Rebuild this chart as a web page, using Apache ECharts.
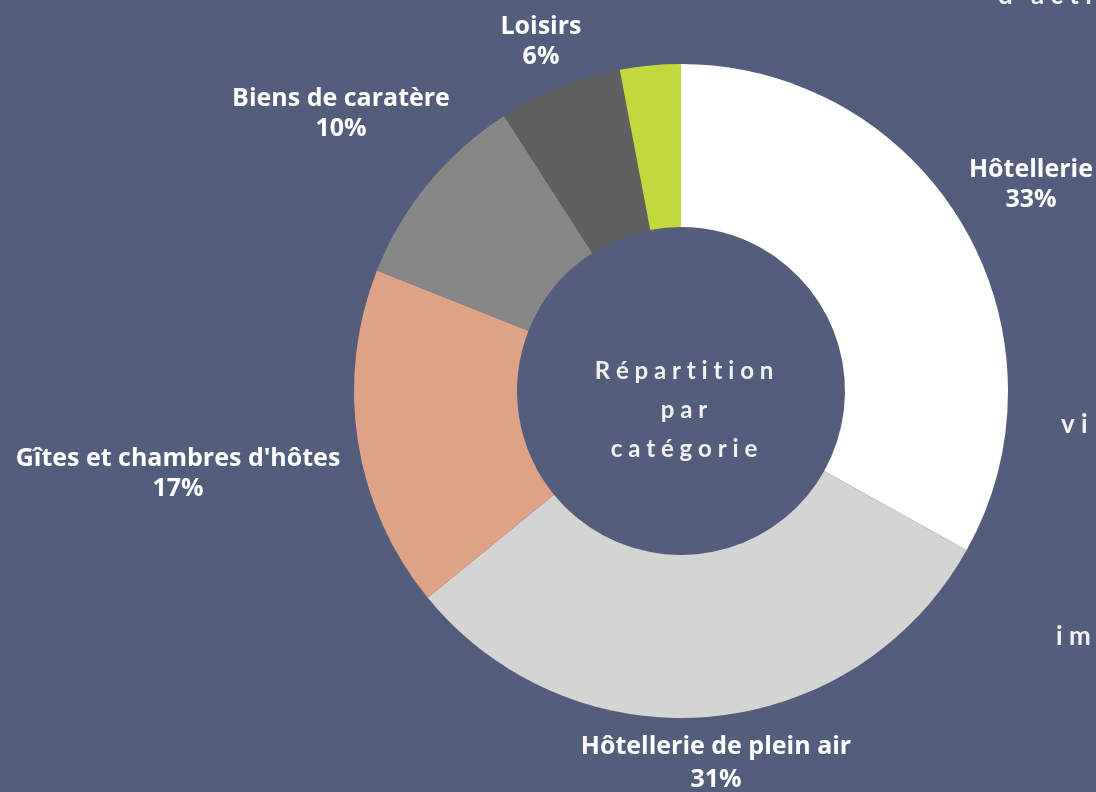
<!DOCTYPE html>
<html>
<head>
<meta charset="utf-8">
<title>Répartition par catégorie</title>
<script src="https://cdn.jsdelivr.net/npm/echarts@6/dist/echarts.min.js"></script>
<style>
  html, body { margin: 0; padding: 0; background: #535e7c; }
  #chart { width: 1096px; height: 792px; }
</style>
</head>
<body>
<div id="chart"></div>
<script>
// categories and shares (%)
var categories = ['Hôtellerie', 'Hôtellerie de plein air', "Gîtes et chambres d'hôtes", 'Biens de caratère', 'Loisirs', 'Autres'];
var shares = [33.1, 31.0, 16.9, 9.9, 6.1, 3.0];
var showLabel = [true, true, true, true, true, false];

var colors = ['#ffffff', '#d4d4d4', '#dea386', '#878787', '#606060', '#c3d83d'];
// label anchor positions (centre of the text block)
var labelPos = [[1031, 185], [716, 763], [178, 474], [341, 114], [541, 42], [0, 0]];

var myChart = echarts.init(document.getElementById('chart'));

var option = {
    backgroundColor: '#535e7c',
    animation: false,
    color: colors,
    graphic: [
        {
            type: 'text',
            style: {
                x: 684, y: 410, text: 'R é p a r t i t i o n\np a r\nc a t é g o r i e',
                align: 'center', verticalAlign: 'middle',
                font: 'bold 24px Lato', lineHeight: 39, fill: '#f2f2f2'
            }
        },
        { type: 'text', style: { x: 998, y: 9, text: "d ' a c t i", verticalAlign: 'bottom', font: 'bold 26px Lato', fill: '#f2f2f2' } },
        { type: 'text', style: { x: 1061, y: 425, text: 'v i', verticalAlign: 'middle', font: 'bold 26px Lato', fill: '#f2f2f2' } },
        { type: 'text', style: { x: 1056, y: 637, text: 'i m', verticalAlign: 'middle', font: 'bold 26px Lato', fill: '#f2f2f2' } }
    ],
    series: [
        {
            type: 'pie',
            center: [681, 391],
            radius: [164, 327],
            startAngle: 90,
            clockwise: true,
            avoidLabelOverlap: false,
            label: {
                show: true,
                position: 'outside',
                color: '#ffffff',
                fontFamily: 'Open Sans',
                fontWeight: 'bold',
                fontSize: 25,
                lineHeight: 30,
                formatter: function (p) {
                    return p.name + '\n' + Math.round(p.value) + '%';
                }
            },
            labelLine: { show: false },
            labelLayout: function (params) {
                var pos = labelPos[params.dataIndex];
                return { x: pos[0], y: pos[1], align: 'center', verticalAlign: 'middle' };
            },
            emphasis: { disabled: true },
            data: categories.map(function (name, i) {
                var item = { name: name, value: shares[i] };
                if (!showLabel[i]) {
                    item.label = { show: false };
                }
                if (i === 1) {
                    item.label = { lineHeight: 33 };
                }
                return item;
            })
        }
    ]
};

myChart.setOption(option);
</script>
</body>
</html>
